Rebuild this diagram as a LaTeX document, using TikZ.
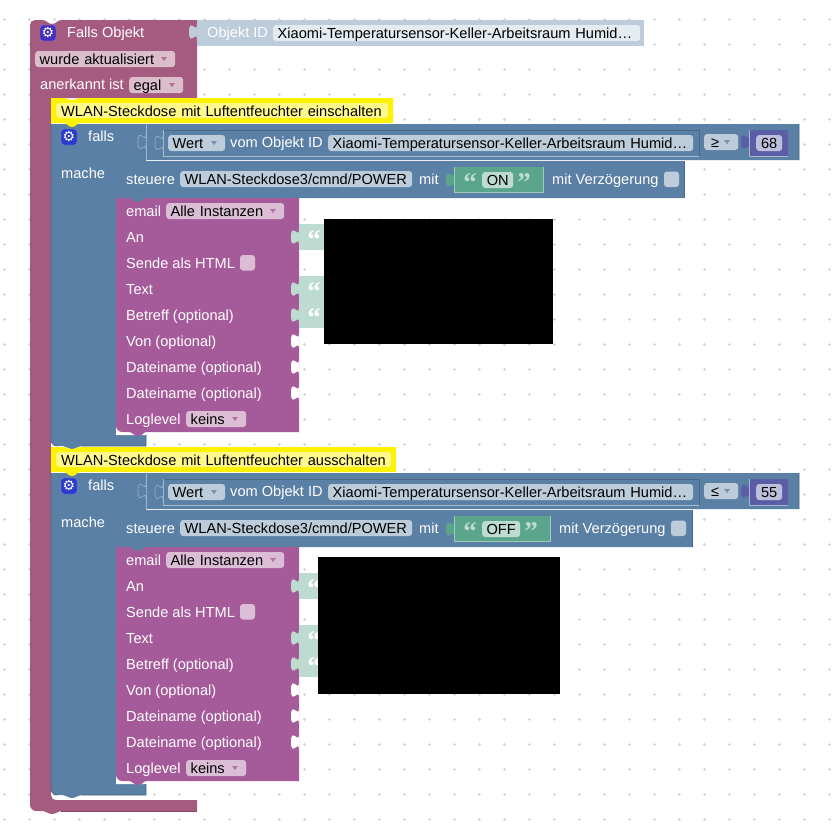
\documentclass[tikz,border=0pt]{standalone}
\usepackage{fontspec}
\setmainfont{Liberation Sans}
\newfontfamily\gearfont{DejaVu Sans}
\newfontfamily\quotefont{Liberation Serif}
\definecolor{trig}{HTML}{A55B80}
\definecolor{trigdark}{HTML}{844966}
\definecolor{trigicon}{HTML}{4530BE}
\definecolor{logic}{HTML}{5B80A5}
\definecolor{logicdark}{HTML}{496684}
\definecolor{logiclight}{HTML}{BDCCDB}
\definecolor{logicicon}{HTML}{2A3CCB}
\definecolor{mail}{HTML}{A55B99}
\definecolor{maillight}{HTML}{DBBDD6}
\definecolor{trigfield}{HTML}{DBBDCC}
\definecolor{idblock}{HTML}{BDCCDB}
\definecolor{idfield}{HTML}{E4EBF1}
\definecolor{strblock}{HTML}{5BA58C}
\definecolor{strlight}{HTML}{BDDBD1}
\definecolor{numblock}{HTML}{5B5EA6}
\definecolor{numfield}{HTML}{BDBFDB}
\definecolor{griddot}{HTML}{D4D4D4}
\tikzset{
lbl/.style={anchor=west, inner sep=0pt, text=white, font=\fontsize{14.6}{16}\selectfont, text height=13pt, text depth=1.5pt},
fieldbox/.style={anchor=west, inner sep=0pt, inner xsep=4.5pt, text=black, rounded corners=3pt, minimum height=16pt, align=left, font=\fontsize{14.6}{16}\selectfont, text height=12.6pt, text depth=1.5pt, fill=#1},
fw/.style={text width={#1-9}},
fwc/.style={inner xsep=0pt, text width={#1}, align=center},
quotemark/.style={inner sep=0pt, text=#1, font=\quotefont\fontsize{27}{27}\bfseries\selectfont, text height=10pt, text depth=0pt},
iconbox/.style={fill=#1, draw=#1!60!white, rounded corners=3pt, minimum size=16pt, inner sep=0pt, text=white, font=\gearfont\fontsize{14}{14}\selectfont}
}
% blockly tab, centred on the edge at (x,y)
\newcommand{\puzzle}[3]{\path[#3, shift={(#1,#2)}] (0,-7.5) .. controls (0,2.5) and (-8,-15.5) .. (-8,0) .. controls (-8,15.5) and (0,-2.5) .. (0,7.5);}
\newcommand{\ddarrow}[3]{\fill[#3, opacity=0.75, shift={(#1,#2)}] (-2.8,-1.8) -- (2.8,-1.8) -- (0,2.2) -- cycle;}
\begin{document}
\begin{tikzpicture}[x=1pt, y=-1pt]
\useasboundingbox (0,0) rectangle (839,839);
% grid
\foreach \gx in {0,...,33} \foreach \gy in {0,...,33} {
  \draw[griddot, line width=0.5pt] ({4.3+25*\gx-1.6},{-5.5+25*\gy}) -- ++(3.2,0) ({4.3+25*\gx},{-5.5+25*\gy-1.6}) -- ++(0,3.2);
}
% outer trigger block
\fill[trig] (35,20) -- (43,20) .. controls (46,20) and (48,24) .. (52,24) .. controls (56,24) and (58,20) .. (61,20) -- (197,20) -- (197,98) -- (51,98) -- (51,795) .. controls (51,798) and (53,800) .. (57,800) -- (197,800) -- (197,811) -- (61,811) .. controls (58,811) and (56,814) .. (52,814) .. controls (48,814) and (46,811) .. (43,811) -- (36,811) .. controls (33,811) and (30,808) .. (30,805) -- (30,25) .. controls (30,22) and (32,20) .. (35,20) -- cycle;
\draw[trigdark, line width=0.8pt] (197,811) -- (61,811);
\node[iconbox=trigicon] (trigbtn) at (48,33) {\symbol{"2699}};
\node[lbl] (trigname) at (67,32) {Falls Objekt};
\node[fieldbox=trigfield, fw=140] (trigupd) at (35,59) {wurde aktualisiert};
\ddarrow{164}{59}{trig}
\node[lbl] (trigack) at (40,84) {anerkannt ist};
\node[fieldbox=trigfield, fw=54] (trigegal) at (129,85) {egal};
\ddarrow{172}{85}{trig}
% object id block
\fill[idblock] (197,20) rectangle (644,46);
\puzzle{197}{32}{fill=idblock}
\node[lbl] (idname) at (207,32) {Objekt ID};
\node[fieldbox=idfield, fw=367] (idvalue) at (273,33) {\mbox{Xiaomi-Temperatursensor-Keller-Arbeitsraum Humid…}};
% both branches, same layout
\foreach \id/\dy/\ctext/\cx/\op/\val/\state/\gx/\fx/\vx/\rx in {
  a/0/einschalten/393/≥/68/ON/543/513/552/684,
  b/349/ausschalten/396/≤/55/OFF/550/520/559/692} {
\begin{scope}[yshift=-\dy pt]
% if block
\fill[logic] (51,124) -- (799,124) -- (799,160) -- (146,160) -- (146,435) -- (146,446) -- (81,446) .. controls (78,446) and (76,449) .. (72,449) .. controls (68,449) and (66,446) .. (63,446) -- (57,446) .. controls (54,446) and (51,443) .. (51,440) -- cycle;
\fill[white] (116,426) -- (116,435) -- (146,435) -- (146,432) -- (122,432) -- (122,426) -- cycle;
\draw[logicdark, line width=0.8pt] (799,124) -- (799,160) (146,435) -- (146,446) -- (81,446) (51,124) -- (51,440) .. controls (51,443) and (54,446) .. (57,446);
\draw[logiclight!70!logic, line width=0.6pt] (146,124) -- (146,160);
\puzzle{146}{142}{draw=logiclight!70!logic, line width=0.6pt, fill=logic}
\draw[logicdark, line width=0.8pt] (163,130) -- (699,130) -- (699,156);
\draw[logiclight!80!logic, line width=0.6pt] (163,130) -- (163,156) -- (699,156);
\puzzle{163}{143}{draw=logiclight!70!logic, line width=0.6pt, fill=logic}
% comment
\fill[yellow] (51,98) -- (64,98) .. controls (67,98) and (68,100) .. (72,100) .. controls (76,100) and (77,98) .. (80,98) -- (\cx,98) -- (\cx,123) -- (80,123) .. controls (77,123) and (76,127) .. (72,127) .. controls (68,127) and (67,123) .. (64,123) -- (51,123) -- cycle;
\node[fieldbox=yellow!45!white, fw={\cx-61}, minimum height=15pt] (note\id) at (56,110.5) {\mbox{\hspace{.5pt}WLAN-Steckdose mit Luftentfeuchter \ctext}};
% condition row
\node[iconbox=logicicon] (icon\id) at (69,137) {\symbol{"2699}};
\node[lbl] (falls\id) at (88,136) {falls};
\node[lbl] (mache\id) at (61,173) {mache};
\node[fieldbox=logiclight, fw=57] (wert\id) at (168,143) {Wert};
\ddarrow{214}{143}{logic}
\node[lbl] (vom\id) at (230,142) {vom Objekt ID};
\node[fieldbox=logiclight, fw=365] (oid\id) at (328,143) {\mbox{Xiaomi-Temperatursensor-Keller-Arbeitsraum Humid…}};
\node[fieldbox=logiclight, fw=34] (op\id) at (704,142) {\,\op};
\ddarrow{727}{142}{logic}
% number
\puzzle{749}{142}{fill=numblock}
\fill[numblock] (749,130) rectangle (788,156);
\draw[logiclight!80!numblock, line width=0.6pt] (749,130) -- (749,156) -- (788,156);
\node[fieldbox=numfield, fwc=26] (val\id) at (756,143) {\val};
% steuere block
\fill[logic] (122,161) -- (129,161) .. controls (132,161) and (134,165) .. (138,165) .. controls (142,165) and (144,161) .. (147,161) -- (\rx,161) -- (\rx,198) -- (146,198) .. controls (144,198) and (142,202) .. (138,202) .. controls (134,202) and (132,198) .. (129,198) -- (116,198) -- (116,167) .. controls (116,163) and (118,161) .. (122,161) -- cycle;
\draw[logicdark, line width=0.8pt] (\rx,161) -- (\rx,198);
\node[lbl] (steu\id) at (126,179) {steuere};
\node[fieldbox=logiclight, fw=232] (dev\id) at (180,179) {\mbox{WLAN-Steckdose3/cmnd/POWER}};
\node[lbl] (mit\id) at (419,179) {mit};
\puzzle{454}{180}{fill=strblock}
\fill[strblock] (454,167) rectangle (\gx,192);
\draw[strlight!70!strblock, line width=0.6pt] (454,167) -- (454,192) -- (\gx,192) -- (\gx,167);
\node[quotemark=strlight] (ql\id) at (470,186) {“};
\node[fieldbox=strlight, fwc={\fx-482}] (stat\id) at (482,180) {\state};
\node[quotemark=strlight] (qr\id) at ({\fx+11},186) {”};
\node[lbl] (verz\id) at (\vx,179) {mit Verzögerung};
\fill[logiclight, rounded corners=3pt] ({\vx+112},171.5) rectangle ({\vx+127},187);
% email block
\fill[mail] (116,198) -- (129,198) .. controls (132,198) and (134,202) .. (138,202) .. controls (142,202) and (144,198) .. (146,198) -- (299,198) -- (299,432) -- (146,432) .. controls (144,432) and (142,436) .. (138,436) .. controls (134,436) and (132,432) .. (129,432) -- (122,432) .. controls (119,432) and (116,429) .. (116,426) -- cycle;
\node[lbl] (mail\id) at (126,211) {email};
\node[fieldbox=maillight, fw=118] (inst\id) at (166,211) {Alle Instanzen};
\ddarrow{273}{211}{mail}
\foreach \ly/\ltext in {237/An, 263/Sende als HTML, 289/Text, 315/Betreff (optional), 341/Von (optional), 367/Dateiname (optional), 393/Dateiname (optional), 419/Loglevel} {
  \node[lbl] (row\id\ly) at (126,\ly) {\ltext};
}
\fill[maillight, rounded corners=3pt] (240,255) rectangle (255,270.5);
\node[fieldbox=maillight, fw=60] (lvl\id) at (186,419) {keins};
\ddarrow{235}{419}{mail}
% string inputs and empty sockets
\foreach \sy in {237,289,315} {
  \puzzle{299}{\sy}{fill=strlight}
  \fill[strlight] (298.5,{\sy-13}) rectangle (330,{\sy+13});
  \node[quotemark=white] (sq\id\sy) at (314,{\sy+6}) {“};
}
\foreach \sy in {341,367,393} {
  \puzzle{299}{\sy}{fill=white}
}
\end{scope}
}
% masked parts of the screenshot
\fill[black] (324,219) rectangle (553,344);
\fill[black] (318,557) rectangle (560,694);
\end{tikzpicture}
\end{document}
